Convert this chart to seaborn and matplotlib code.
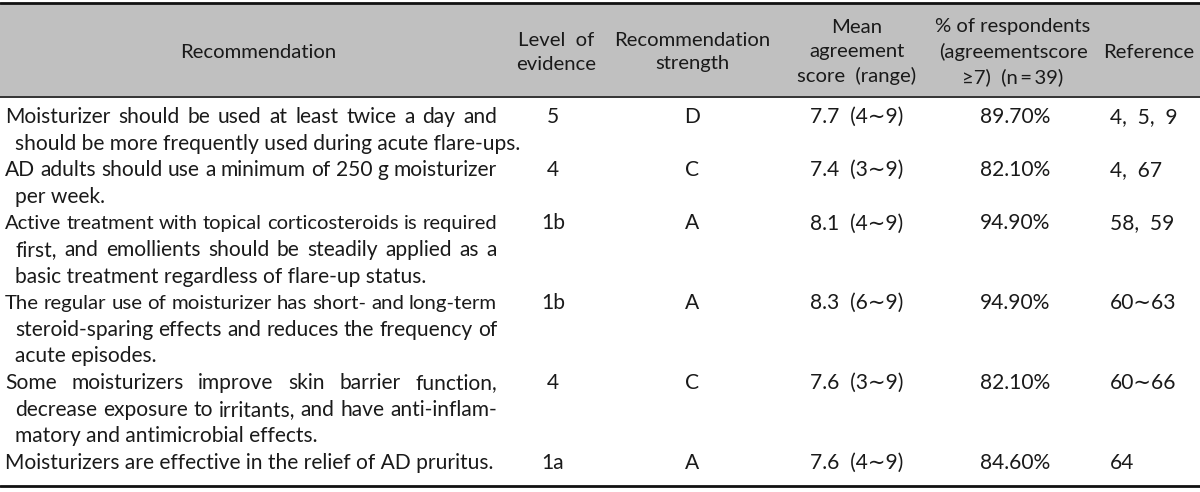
import matplotlib
matplotlib.use("Agg")
import matplotlib.pyplot as plt
import seaborn as sns

# ---------------- data ----------------
headers = ["Recommendation", "Level  of\nevidence", "Recommendation\nstrength",
           "Mean\nagreement\nscore  (range)", "% of respondents\n(agreementscore\n\u22657)  (n\u2009=\u200939)",
           "Reference"]
recommendations = [
    ["Moisturizer should be used at least twice a day and",
     "should be more frequently used during acute flare-ups."],
    ["AD adults should use a minimum of 250 g moisturizer",
     "per week."],
    ["Active treatment with topical corticosteroids is required",
     "first, and emollients should be steadily applied as a",
     "basic treatment regardless of flare-up status."],
    ["The regular use of moisturizer has short- and long-term",
     "steroid-sparing effects and reduces the frequency of",
     "acute episodes."],
    ["Some moisturizers improve skin barrier function,",
     "decrease exposure to irritants, and have anti-inflam-",
     "matory and antimicrobial effects."],
    ["Moisturizers are effective in the relief of AD pruritus."],
]
levels = ["5", "4", "1b", "1b", "4", "1a"]
strengths = ["D", "C", "A", "A", "C", "A"]
mean_scores = ["7.7  (4\u223c9)", "7.4  (3\u223c9)", "8.1  (4\u223c9)",
               "8.3  (6\u223c9)", "7.6  (3\u223c9)", "7.6  (4\u223c9)"]
percents = ["89.70%", "82.10%", "94.90%", "94.90%", "82.10%", "84.60%"]
references = ["4,  5,  9", "4,  67", "58,  59", "60\u223c63", "60\u223c66", "64"]

# ---------------- style ----------------
sns.set_theme(style="white")
plt.rcParams["font.family"] = ["Lato", "DejaVu Sans"]
TXT = "#1a1a1a"
W, H = 1200, 492
fig = plt.figure(figsize=(W / 100, H / 100), dpi=100)
ax = fig.add_axes([0, 0, 1, 1])
ax.set_xlim(0, W)
ax.set_ylim(H, 0)
ax.axis("off")
renderer = fig.canvas.get_renderer()


def text_width(s, fs):
    t = ax.text(0, 0, s, fontsize=fs)
    w = t.get_window_extent(renderer).width
    t.remove()
    return w


# font size so the single-line recommendation fits its column
FS = 12 * 490.0 / text_width(recommendations[5][0], 12)

# header band and rules
ax.axhspan(3.5, 96, color="#c0c0c0", lw=0, zorder=0)
ax.axhline(2.5, color="#111111", lw=2.0)
ax.axhline(96.5, color="#111111", lw=1.2)
ax.axhline(486, color="#111111", lw=2.0)

col_x = [258, 556, 692, 857, 1013, 1149]
for x, h in zip(col_x, headers):
    ax.text(x, 52, h, ha="center", va="center", fontsize=FS * 0.96, color=TXT,
            linespacing=1.5, multialignment="center")


def justified(line, x0, x1, y, last):
    if last:
        ax.text(x0, y, line, ha="left", va="baseline", fontsize=FS, color=TXT)
        return
    words = line.split(" ")
    fs = FS
    widths = [text_width(w, fs) for w in words]
    mingap = text_width("a a", fs) - 2 * text_width("a", fs)
    need = sum(widths) + mingap * (len(words) - 1)
    if need > (x1 - x0):
        fs = FS * (x1 - x0) / need
        widths = [text_width(w, fs) for w in words]
    gap = (x1 - x0 - sum(widths)) / max(len(words) - 1, 1)
    x = x0
    for w, ww in zip(words, widths):
        ax.text(x, y, w, ha="left", va="baseline", fontsize=fs, color=TXT)
        x += ww + gap


y0, step, base = 117, 26.6, 6.0
line_idx = 0
for r, lines in enumerate(recommendations):
    yrow = y0 + step * line_idx + base
    for j, ln in enumerate(lines):
        y = y0 + step * line_idx + base
        x0 = 5 if j == 0 else 15
        justified(ln, x0, 497, y, last=(j == len(lines) - 1))
        line_idx += 1
    ax.text(553, yrow, levels[r], ha="center", va="baseline", fontsize=FS, color=TXT)
    ax.text(692, yrow, strengths[r], ha="center", va="baseline", fontsize=FS, color=TXT)
    ax.text(857, yrow, mean_scores[r], ha="center", va="baseline", fontsize=FS, color=TXT)
    ax.text(1015, yrow, percents[r], ha="center", va="baseline", fontsize=FS, color=TXT)
    ax.text(1110, yrow, references[r], ha="left", va="baseline", fontsize=FS, color=TXT)

fig.savefig("out.png", dpi=100)
